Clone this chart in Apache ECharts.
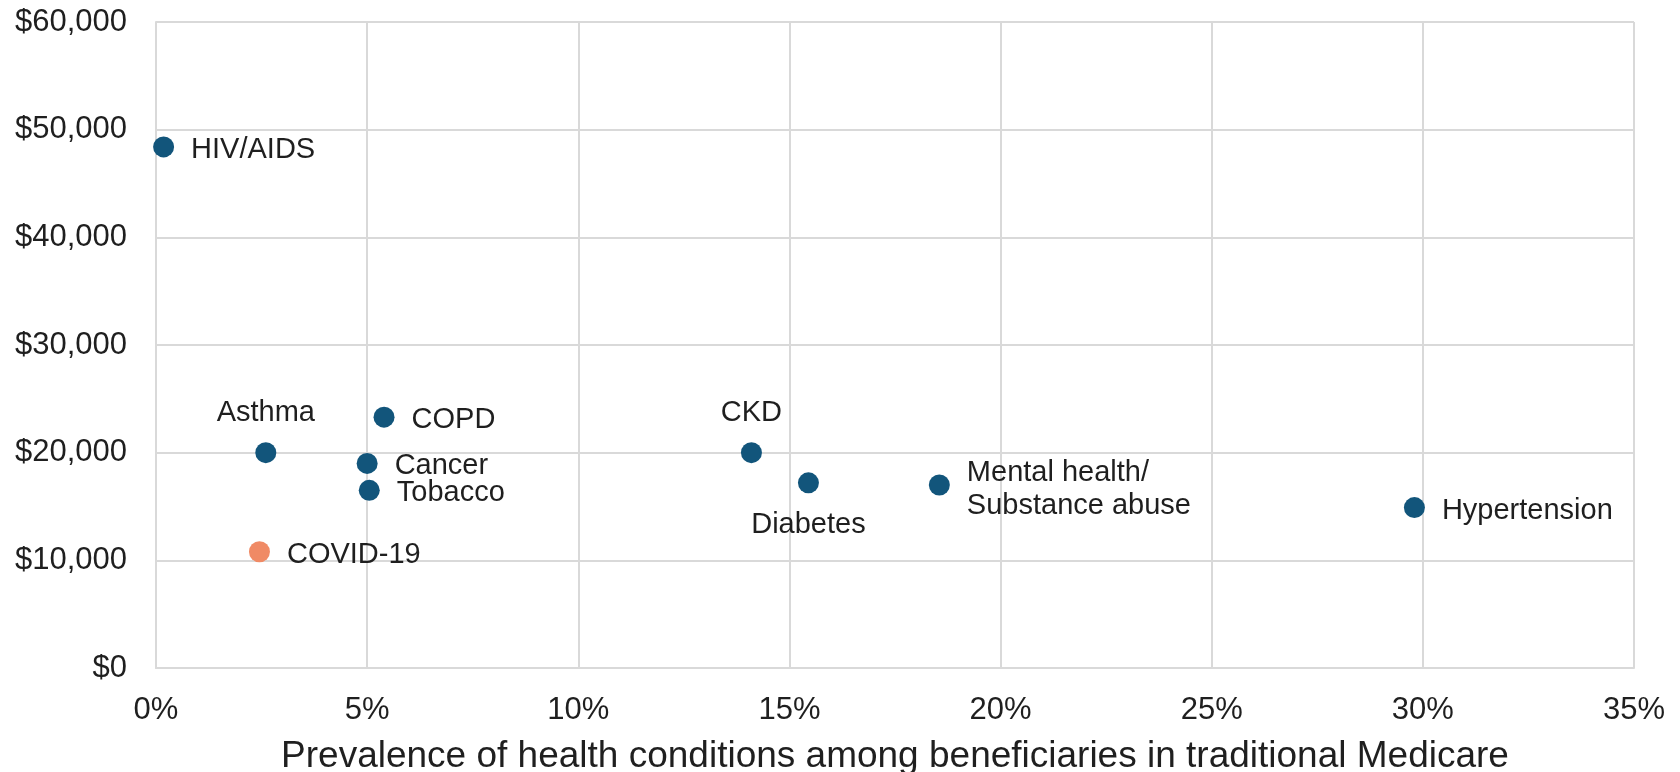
<!DOCTYPE html>
<html>
<head>
<meta charset="utf-8">
<script src="https://cdn.jsdelivr.net/npm/echarts@6/dist/echarts.min.js"></script>
<style>
html,body{margin:0;padding:0;background:#fff;}
#chart{width:1680px;height:772px;}
</style>
</head>
<body>
<div id="chart"></div>
<script>
// Data
const conditions = ["HIV/AIDS","Asthma","COPD","Cancer","Tobacco","COVID-19","CKD","Diabetes","Mental health/\nSubstance abuse","Hypertension"];
const prevalence = [0.18, 2.6, 5.4, 5.0, 5.05, 2.45, 14.1, 15.45, 18.55, 29.8]; // %
const spending = [48400, 20000, 23300, 19000, 16500, 10800, 20000, 17200, 17000, 14900]; // $
const highlighted = ["COVID-19"];
const xTicks = [0,5,10,15,20,25,30,35];
const yTicks = [0,10000,20000,30000,40000,50000,60000];

// Styles
const BLUE = "#12557b";
const ORANGE = "#f08a65";
const TEXT = "#1f1f1f";
const FONT = "Liberation Sans, Arial, sans-serif";
const labelPos = {"Asthma":"top","CKD":"top","Diabetes":"bottom"};

const points = conditions.map((n,i)=>{
  const pos = labelPos[n] || "right";
  const multi = n.indexOf("\n") >= 0;
  return {
    name: n,
    value: [prevalence[i], spending[i]],
    itemStyle: {color: highlighted.includes(n) ? ORANGE : BLUE, opacity: 1},
    label: {position: pos, distance: pos === "right" ? 17 : (pos === "top" ? 13 : 15),
            align: pos === "right" ? 'left' : 'center',
            offset: pos === "right" ? [0, multi ? 5 : 3] : [0, 0]}
  };
});

const chart = echarts.init(document.getElementById('chart'), null, {renderer:'canvas'});
chart.setOption({
  animation: false,
  backgroundColor: '#fff',
  textStyle: {fontFamily: FONT},
  grid: {left:156, right:46, top:22, bottom:104, containLabel:false, outerBoundsMode:'none'},
  xAxis: {
    type: 'value', min: xTicks[0], max: xTicks[xTicks.length-1], interval: 5,
    name: 'Prevalence of health conditions among beneficiaries in traditional Medicare',
    nameLocation: 'middle', nameGap: 70,
    nameTextStyle: {fontSize: 37, color: TEXT, fontFamily: FONT},
    axisLine: {show:true, lineStyle:{color:'#d9d9d9', width:2}},
    axisTick: {show:false},
    splitLine: {show:true, lineStyle:{color:'#d9d9d9', width:2}},
    axisLabel: {fontSize: 31, color: TEXT, margin: 27, formatter: v => v + '%', fontFamily: FONT}
  },
  yAxis: {
    type: 'value', min: yTicks[0], max: yTicks[yTicks.length-1], interval: 10000,
    axisLine: {show:true, lineStyle:{color:'#d9d9d9', width:2}},
    axisTick: {show:false},
    splitLine: {show:true, lineStyle:{color:'#d9d9d9', width:2}},
    axisLabel: {fontSize: 31, color: TEXT, margin: 29, fontFamily: FONT,
      formatter: v => '$' + v.toLocaleString('en-US')}
  },
  series: [{
    type: 'scatter',
    symbolSize: 21,
    data: points,
    itemStyle: {opacity: 1},
    label: {show:true, formatter: p => p.name, fontSize: 29, color: TEXT, lineHeight: 33, fontFamily: FONT}
  }]
});
</script>
</body>
</html>
